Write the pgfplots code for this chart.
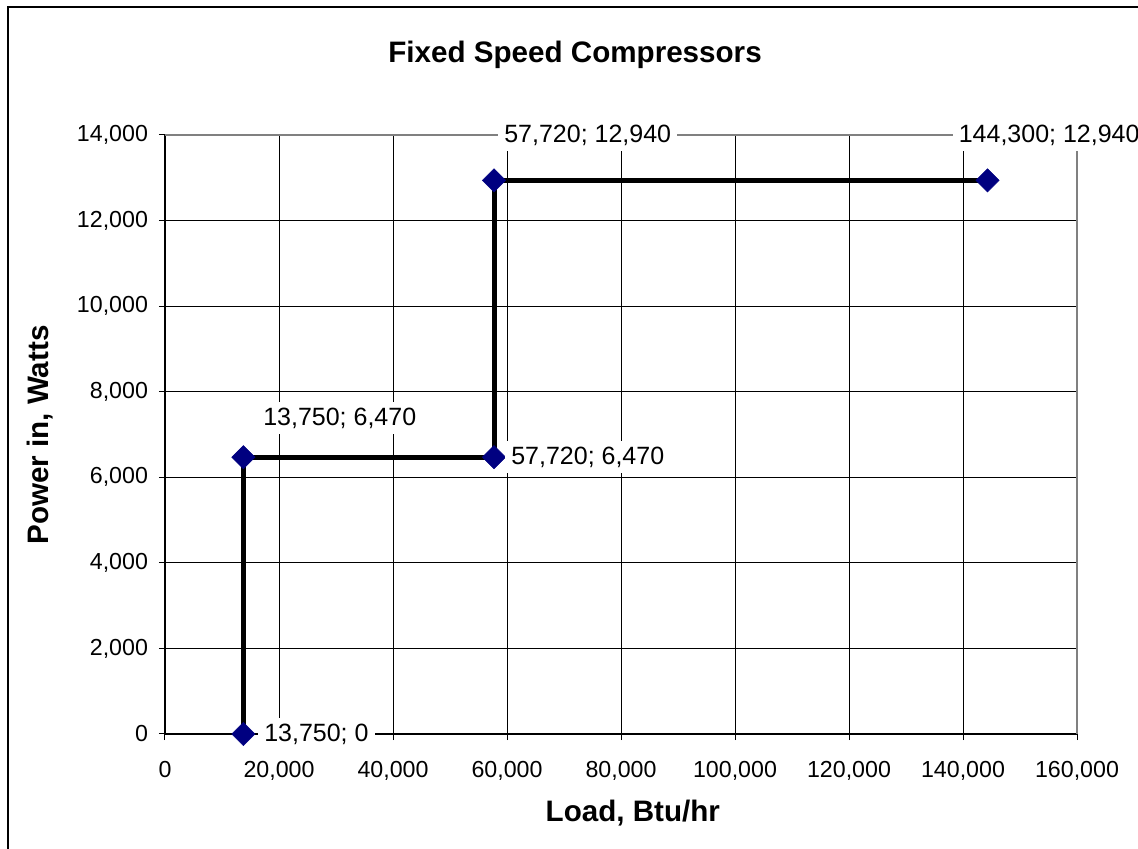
\documentclass[border=0pt]{standalone}
\usepackage{pgfplots}
\pgfplotsset{compat=1.18}
\usepackage{fontspec}
\setmainfont{Liberation Sans}
\definecolor{marknavy}{HTML}{000080}

\begin{document}
\begin{tikzpicture}
\useasboundingbox (-82.5pt,-57.5pt) rectangle (486.5pt,367pt);
\begin{axis}[
    at={(0,0)}, anchor=south west,
    scale only axis,
    width=456pt,
    height=299.5pt,
    xmin=0, xmax=160000,
    ymin=0, ymax=14000,
    xtick={0,20000,...,160000},
    ytick={0,2000,...,14000},
    scaled ticks=false,
    /pgf/number format/.cd, fixed, precision=0, 1000 sep={,}, assume math mode=true, /pgfplots/.cd,
    axis lines=left,
    axis line style={-, line width=0.6pt},
    tick align=outside,
    major tick length=3pt,
    tick style={black, line width=0.5pt},
    grid=major,
    major grid style={black, line width=0.5pt},
    ticklabel style={font=\fontsize{11.6}{13}\selectfont},
    xticklabel style={yshift=-7pt},
    yticklabel style={xshift=-2pt},
    title={Fixed Speed Compressors},
    title style={font=\fontsize{14.8}{17}\selectfont\bfseries, at={(rel axis cs:0.4496,1)}, anchor=center, yshift=34pt},
    xlabel={Load, Btu/hr},
    xlabel style={font=\fontsize{14.8}{17}\selectfont\bfseries, at={(rel axis cs:0.513,0)}, anchor=center, yshift=-39.5pt},
    ylabel={Power in, Watts},
    ylabel style={font=\fontsize{14.8}{17}\selectfont\bfseries, at={(rel axis cs:0,0.499)}, anchor=center, yshift=62.5pt},
    clip=false,
]
\draw[gray, line width=0.6pt] (rel axis cs:0,1) -- (rel axis cs:1,1) -- (rel axis cs:1,0);
\addplot[
    black,
    line width=2.5pt,
    mark=square*,
    mark size=4.1pt,
    mark options={rotate=45, fill=marknavy, draw=marknavy, line width=0.3pt},
    point meta=explicit symbolic,
    visualization depends on={value \thisrow{dx}\as\dx},
    visualization depends on={value \thisrow{dy}\as\dy},
    nodes near coords,
    nodes near coords style={font=\fontsize{12.5}{15}\selectfont, anchor=west, fill=white, inner xsep=3pt, inner ysep=3pt, xshift=\dx pt, yshift=\dy pt},
] table [meta=label] {
x       y      dx      dy     label
13750   0      7.3     0      {13,750; 0}
13750   6470   6.8     19.5   {13,750; 6,470}
57720   6470   5.5     0      {57,720; 6,470}
57720   12940  2.0     22.7   {57,720; 12,940}
144300  12940  -17.5   22.7   {144,300; 12,940}
};
\end{axis}
\draw[black, line width=1pt] (-78.5pt,-57.5pt) -- (-78.5pt,363.5pt) -- (486.5pt,363.5pt);
\end{tikzpicture}
\end{document}
